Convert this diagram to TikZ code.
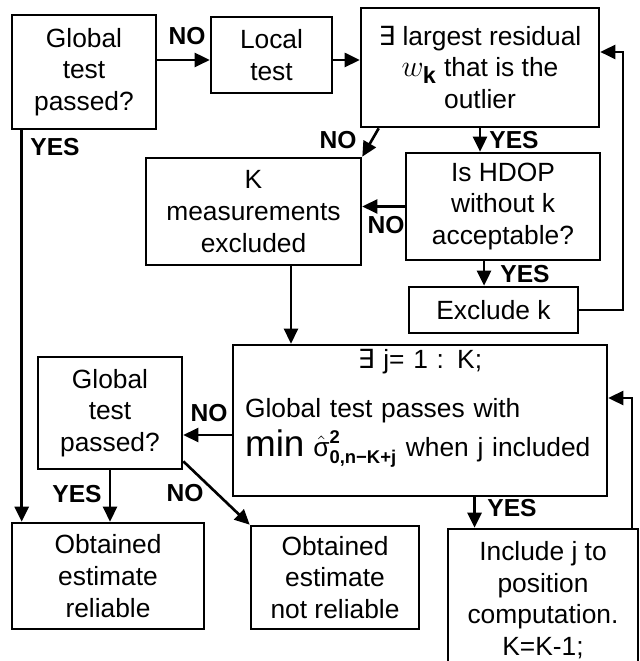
\documentclass[tikz,border=0pt]{standalone}
\usepackage{fontspec}
\usepackage{amsmath}
\usepackage{tikz}
\setmainfont{Liberation Sans}
\newfontfamily\symfont{DejaVu Sans}
\usetikzlibrary{arrows.meta}

\begin{document}
\begin{tikzpicture}[x=0.02cm, y=-0.02cm, line width=1.5pt,
    >={Triangle[length=0.3cm,width=0.28cm]},
    font=\fontsize{15}{18}\selectfont,
    flowbox/.style={draw, rectangle, align=center, inner sep=2pt},
    yesno/.style={font=\fontsize{14}{14}\selectfont\bfseries, inner sep=0pt}]
    \useasboundingbox (0,0) rectangle (639,661);

    % First global test
    \node[flowbox, minimum width=2.88cm, minimum height=2.28cm] (glob1) at (84,72)
        {Global\\test\\passed?};

    % Local test
    \node[flowbox, minimum width=2.42cm, minimum height=1.52cm] (local) at (271.5,55)
        {Local\\test};

    % Outlier search
    \node[flowbox, minimum width=4.76cm, minimum height=2.38cm] (outl) at (480,67.5)
        {{\symfont ∃} largest residual\\{\fontsize{19}{19}\selectfont$w_{\textbf{k}}$} that is the\\outlier};

    % Excluded measurements
    \node[flowbox, minimum width=4.3cm, minimum height=2.14cm] (kexcl) at (253.5,211.5)
        {K\\measurements\\excluded};

    % HDOP check
    \node[flowbox, minimum width=3.88cm, minimum height=2.14cm] (hdop) at (503,206.5)
        {Is HDOP\\without k\\acceptable?};
    \node[flowbox, minimum width=3.38cm, minimum height=0.92cm] (excl) at (493.5,310)
        {Exclude k};

    % Re-inclusion test
    \node[flowbox, minimum width=7.48cm, minimum height=3.02cm] (jbox) at (420,420.5) {};
    \node[align=left, text width=7cm, inner sep=0pt, anchor=north] (jtext) at (420,348)
        {\makebox[7cm][c]{{\symfont ∃} j= 1 : K;}\\[10pt]Global test passes with\\[3pt]{\fontsize{21}{21}\selectfont min} $\hat{\text{σ}}^{\textbf{2}}_{\textbf{0,n−K+j}}$ when j included};

    % Second global test
    \node[flowbox, minimum width=2.88cm, minimum height=2.24cm] (glob2) at (110,413)
        {Global\\test\\passed?};

    % Results
    \node[flowbox, minimum width=3.84cm, minimum height=2.12cm] (reli) at (108,576)
        {Obtained\\estimate\\reliable};
    \node[flowbox, minimum width=3.36cm, minimum height=2.06cm] (notrel) at (335,577.5)
        {Obtained\\estimate\\not reliable};
    \node[flowbox, minimum width=3.8cm, minimum height=2.84cm] (incl) at (543,600)
        {Include j to\\position\\computation.\\K=K-1;};

    % Labels
    \node[yesno] (no1) at (187,36) {NO};
    \node[yesno] (yes1) at (55,147) {YES};
    \node[yesno] (no2) at (338,140) {NO};
    \node[yesno] (yes2) at (514,140) {YES};
    \node[yesno] (no3) at (386,225) {NO};
    \node[yesno] (yes3) at (525,274) {YES};
    \node[yesno] (no4) at (209,413) {NO};
    \node[yesno] (yes4) at (77,494) {YES};
    \node[yesno] (no5) at (185,493) {NO};
    \node[yesno] (yes5) at (512,508) {YES};

    % Turning points
    \coordinate (lvl1) at (0,60);
    \coordinate (lvl2) at (0,435);
    \coordinate (back1) at (623,52);
    \coordinate (back2) at (632,398);

    % Arrows
    \draw[->] (glob1.east |- lvl1) -- (local.west |- lvl1);
    \draw[->] (local.east |- lvl1) -- (outl.west |- lvl1);
    \draw[->] ([xshift=0.38cm]outl.south west) -- (kexcl.north east);
    \draw[->] (outl.south) -- (outl.south |- hdop.north);
    \draw[->] (hdop.west) -- (kexcl.east |- hdop.west);
    \draw[->] ([xshift=-0.38cm]hdop.south) -- ([xshift=-0.38cm]hdop.south |- excl.north);
    \draw[->] (excl.east) -| (back1) -- (outl.east |- back1);
    \draw[->] ([xshift=0.75cm]kexcl.south) -- ([xshift=0.75cm]kexcl.south |- jbox.north);
    \draw[->] ([xshift=0.22cm]glob1.south west) -- ([xshift=0.22cm]glob1.south west |- reli.north);
    \draw[->] (jbox.west |- lvl2) -- (glob2.east |- lvl2);
    \draw[->] (glob2.south) -- (glob2.south |- reli.north);
    \draw[->] ([yshift=0.18cm]glob2.south east) -- (notrel.north west);
    \draw[->] ([xshift=-1.37cm]incl.north |- jbox.south) -- ([xshift=-1.37cm]incl.north);
    \draw[->] (back2 |- incl.north) -- (back2) -- (jbox.east |- back2);

\end{tikzpicture}
\end{document}
